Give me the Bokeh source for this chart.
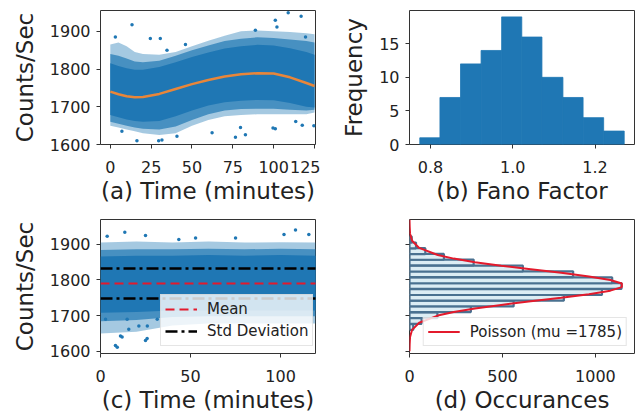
from bokeh.plotting import figure
from bokeh.layouts import column, row
from bokeh.models import Range1d, FixedTicker, PrintfTickFormatter, Legend, LegendItem
from bokeh.embed import file_html
from bokeh.resources import INLINE

BLUE = "#1f77b4"
RED = "#e31a2c"
ORANGE = "#e8863a"
TXT = "#222222"

# ---------------- (a) raw count rate vs time ----------------
a_xticks = [0, 25, 50, 75, 100, 125]
a_yticks = [1600, 1700, 1800, 1900]
a_t        = [0, 5, 10, 15, 20, 30, 40, 50, 60, 70, 80, 90, 100, 110, 120, 125]
a_trend    = [1740, 1733, 1728, 1725, 1726, 1734, 1747, 1760, 1771, 1780, 1786, 1789, 1788, 1778, 1763, 1755]
a_outer_hi = [1865, 1870, 1860, 1845, 1840, 1838, 1845, 1860, 1875, 1888, 1900, 1902, 1900, 1898, 1895, 1892]
a_outer_lo = [1650, 1645, 1640, 1635, 1630, 1625, 1630, 1650, 1665, 1675, 1678, 1680, 1680, 1680, 1680, 1685]
a_mid_hi   = [1840, 1835, 1828, 1820, 1818, 1822, 1835, 1850, 1862, 1874, 1880, 1884, 1882, 1878, 1874, 1870]
a_mid_lo   = [1660, 1655, 1650, 1645, 1642, 1640, 1648, 1665, 1680, 1690, 1694, 1695, 1695, 1692, 1690, 1692]
a_core_hi  = [1815, 1808, 1802, 1798, 1798, 1805, 1818, 1832, 1844, 1854, 1860, 1864, 1862, 1855, 1845, 1838]
a_core_lo  = [1678, 1672, 1666, 1662, 1660, 1662, 1675, 1690, 1703, 1712, 1716, 1718, 1717, 1710, 1700, 1698]
a_out_t = [13.3, 24.5, 3.1, 46, 34.7, 101, 108.9, 116.8, 102, 88.8, 119.5, 30.6,
           16.3, 29.6, 31.6, 76.6, 82.7, 101, 117.5, 113.5, 79.7, 7.1, 40.8, 62.3, 124.6, 99.6]
a_out_c = [1917, 1881, 1885, 1865, 1850, 1929, 1949, 1940, 1911, 1903, 1885, 1881,
           1610, 1610, 1612, 1619, 1626, 1642, 1651, 1661, 1645, 1635, 1622, 1631, 1650, 1644]

# ---------------- (b) Fano factor histogram ----------------
b_edges = [0.774, 0.823, 0.873, 0.923, 0.973, 1.022, 1.071, 1.122, 1.171, 1.221, 1.271]
b_counts = [1, 7, 12, 14, 19, 16, 10, 7, 4, 2]
b_xticks = [0.8, 1.0, 1.2]
b_yticks = [0, 5, 10, 15]

# ---------------- (c) detrended count rate ----------------
c_xticks = [0, 50, 100]
c_yticks = [1600, 1700, 1800, 1900]
c_t        = [0, 20, 40, 60, 80, 100, 120]
c_outer_hi = [1905, 1908, 1905, 1908, 1905, 1906, 1905]
c_outer_lo = [1650, 1655, 1672, 1678, 1678, 1678, 1678]
c_mid_hi   = [1884, 1886, 1886, 1888, 1886, 1888, 1886]
c_mid_lo   = [1684, 1688, 1696, 1698, 1698, 1698, 1698]
c_core_hi  = [1866, 1868, 1868, 1870, 1868, 1870, 1868]
c_core_lo  = [1708, 1710, 1714, 1714, 1714, 1714, 1714]
c_mean = 1790
c_std = 42
c_out_t = [13.5, 3.7, 25, 52.8, 108.3, 101.9, 75, 115.7, 43.5,
           8.3, 11.1, 15.7, 25.9, 12, 2.8, 21.3, 14.8, 26, 25, 9.3, 31.5]
c_out_c = [1934, 1923, 1925, 1918, 1940, 1928, 1918, 1928, 1914,
           1616, 1643, 1662, 1636, 1640, 1690, 1671, 1690, 1671, 1630, 1611, 1690]

# ---------------- (d) histogram of counts + Poisson ----------------
d_centers = [1668, 1685, 1701, 1718, 1734, 1750, 1766, 1783, 1799, 1816, 1832, 1849, 1865, 1881, 1897, 1914]
d_counts  = [20, 65, 150, 330, 560, 830, 1035, 1140, 1090, 880, 610, 345, 185, 85, 35, 12]
d_binw = 16.4
d_pois_y  = [1600, 1620, 1640, 1660, 1680, 1700, 1710, 1720, 1730, 1740, 1750, 1760, 1770, 1780,
             1790, 1800, 1810, 1820, 1830, 1840, 1850, 1860, 1870, 1890, 1910, 1930, 1950, 1970]
d_pois_x  = [0, 1, 3, 14, 52, 152, 238, 352, 493, 652, 816, 965, 1080, 1142,
             1142, 1080, 965, 816, 652, 493, 352, 238, 152, 52, 14, 3, 1, 0]
d_xticks = [0, 500, 1000]
d_yticks = [1600, 1700, 1800, 1900]


def style(p, xticks, yticks, xlabel, ylabel):
    p.outline_line_color = "#333333"
    p.outline_line_width = 1
    p.xgrid.visible = False
    p.ygrid.visible = False
    p.background_fill_color = "white"
    p.border_fill_color = "white"
    for ax in (p.xaxis[0], p.yaxis[0]):
        ax.axis_line_color = None
        ax.major_tick_out = 4
        ax.major_tick_in = 0
        ax.major_tick_line_color = "#333333"
        ax.minor_tick_line_color = None
        ax.major_label_text_font = "DejaVu Sans"
        ax.major_label_text_font_size = "16px"
        ax.major_label_text_color = TXT
        ax.axis_label_text_font = "DejaVu Sans"
        ax.axis_label_text_font_size = "23px"
        ax.axis_label_text_font_style = "normal"
        ax.axis_label_text_color = TXT
    p.xaxis[0].major_label_standoff = 12
    p.xaxis[0].axis_label_standoff = 2
    p.yaxis[0].major_label_standoff = 6
    p.yaxis[0].axis_label_standoff = 9
    p.xaxis[0].ticker = FixedTicker(ticks=xticks)
    p.yaxis[0].ticker = FixedTicker(ticks=yticks)
    p.xaxis[0].axis_label = xlabel
    if ylabel is not None:
        p.yaxis[0].axis_label = ylabel


common = dict(output_backend="svg", toolbar_location=None, tools="")

# (a)
pa = figure(width=320, height=213, x_range=Range1d(-6, 125.6), y_range=Range1d(1600, 1955),
            min_border_left=100, min_border_right=5, min_border_top=9, min_border_bottom=69, **common)
pa.varea(x=a_t, y1=a_outer_lo, y2=a_outer_hi, fill_color=BLUE, fill_alpha=0.4)
pa.varea(x=a_t, y1=a_mid_lo, y2=a_mid_hi, fill_color=BLUE, fill_alpha=0.7)
pa.varea(x=a_t, y1=a_core_lo, y2=a_core_hi, fill_color=BLUE, fill_alpha=1.0)
pa.scatter(a_out_t, a_out_c, size=3.5, color=BLUE, line_color=None)
pa.line(a_t, a_trend, line_color=ORANGE, line_width=2.5)
style(pa, a_xticks, a_yticks, "(a) Time (minutes)", "Counts/Sec")

# (b)
pb = figure(width=315, height=213, x_range=Range1d(0.749, 1.296), y_range=Range1d(0, 19.95),
            min_border_left=89, min_border_right=1, min_border_top=10, min_border_bottom=69, **common)
pb.quad(left=b_edges[:-1], right=b_edges[1:], bottom=0, top=b_counts,
        fill_color=BLUE, line_color=BLUE, line_width=0.8)
style(pb, b_xticks, b_yticks, "(b) Fano Factor", "Frequency")
pb.xaxis[0].formatter = PrintfTickFormatter(format="%.1f")

# (c)
pc = figure(width=320, height=203, x_range=Range1d(0, 119.4), y_range=Range1d(1593.6, 1969.8),
            min_border_left=100, min_border_right=5, min_border_top=6, min_border_bottom=63, **common)
pc.varea(x=c_t, y1=c_outer_lo, y2=c_outer_hi, fill_color=BLUE, fill_alpha=0.4)
pc.varea(x=c_t, y1=c_mid_lo, y2=c_mid_hi, fill_color=BLUE, fill_alpha=0.7)
pc.varea(x=c_t, y1=c_core_lo, y2=c_core_hi, fill_color=BLUE, fill_alpha=1.0)
pc.scatter(c_out_t, c_out_c, size=3.5, color=BLUE, line_color=None)
tx = [c_t[0], c_t[-1]]
r_mean = pc.line(tx, [c_mean, c_mean], line_color=RED, line_width=2, line_dash="9 5")
r_hi = pc.line(tx, [c_mean + c_std] * 2, line_color="black", line_width=2.5, line_dash="12 4 3 4")
pc.line(tx, [c_mean - c_std] * 2, line_color="black", line_width=2.5, line_dash="12 4 3 4")
style(pc, c_xticks, c_yticks, "(c) Time (minutes)", "Counts/Sec")
leg_c = Legend(items=[LegendItem(label="Mean", renderers=[r_mean]),
                      LegendItem(label="Std Deviation", renderers=[r_hi])],
               location=(60, 7), glyph_width=32, glyph_height=20, label_height=20,
               label_standoff=10, padding=4, spacing=2,
               label_text_font="DejaVu Sans", label_text_font_size="15px", label_text_color=TXT,
               border_line_color="#cccccc", background_fill_color="white", background_fill_alpha=0.8)
pc.add_layout(leg_c)

# (d)
pd = figure(width=315, height=203, x_range=Range1d(0, 1210), y_range=pc.y_range,
            min_border_left=89, min_border_right=1, min_border_top=6, min_border_bottom=63, **common)
pd.hbar(y=d_centers, right=d_counts, left=0, height=d_binw,
        fill_color="#dcedf4", line_color="#4a7190", line_width=2.2)
r_pois = pd.line(d_pois_x, d_pois_y, line_color=RED, line_width=2)
style(pd, d_xticks, d_yticks, "(d) Occurances", None)
pd.yaxis[0].major_label_overrides = {t: "" for t in d_yticks}
leg_d = Legend(items=[LegendItem(label="Poisson (mu =1785)", renderers=[r_pois])],
               location="bottom_right", margin=7, glyph_width=32, glyph_height=19, label_height=19,
               label_standoff=10, padding=4,
               label_text_font="DejaVu Sans", label_text_font_size="15px", label_text_color=TXT,
               border_line_color="#cccccc", background_fill_color="white", background_fill_alpha=0.8)
pd.add_layout(leg_d)

layout = column(row(pa, pb), row(pc, pd))
open("out.html", "w").write(file_html(layout, INLINE))
